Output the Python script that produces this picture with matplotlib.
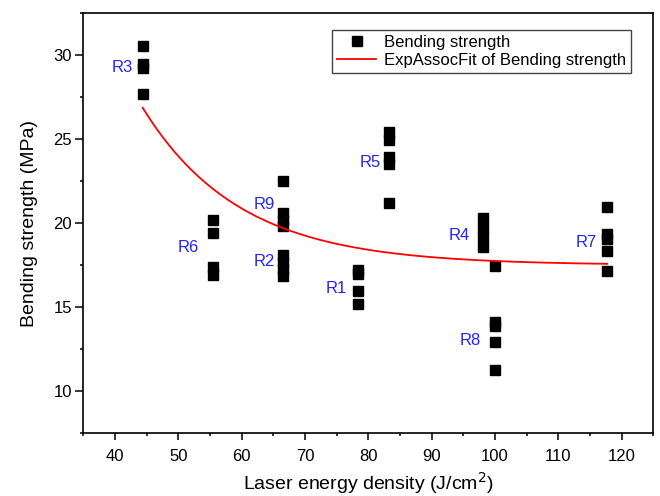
import numpy as np
import matplotlib
matplotlib.use('Agg')
import matplotlib.pyplot as plt
from matplotlib.ticker import MultipleLocator

plt.rcParams['font.family'] = ['Liberation Sans', 'DejaVu Sans']

# laser energy density (J/cm2) and bending strength (MPa) for each sample group
energia = [44.4] * 4 + [55.5] * 4 + [66.6] * 8 + [78.4] * 4 + [83.3] * 5 + [98.1] * 4 + [100.0] * 5 + [117.7] * 5
resistencia = [30.55, 29.45, 29.2, 27.7,
               20.17, 19.41, 17.4, 16.9,
               22.5, 20.58, 20.2, 19.84, 18.09, 17.7, 17.3, 16.87,
               17.22, 16.97, 15.98, 15.2,
               25.42, 24.93, 23.92, 23.49, 21.2,
               20.33, 19.7, 19.15, 18.6,
               17.43, 14.1, 13.9, 12.92, 11.29,
               20.94, 19.34, 19.04, 18.34, 17.17]

# sample labels and where they sit
rotulos = ['R3', 'R6', 'R9', 'R2', 'R1', 'R5', 'R4', 'R8', 'R7']
rotulo_x = [42.9, 53.2, 65.3, 65.3, 76.7, 82.0, 96.0, 97.8, 116.0]
rotulo_y = [29.23, 18.54, 21.11, 17.71, 16.13, 23.63, 19.29, 13.0, 18.83]

# exponential fit parameters
y0, A, x0, t = 17.5, 9.36, 44.4, 15.3
x_fit = np.linspace(44.4, 117.7, 200)
y_fit = y0 + A * np.exp(-(x_fit - x0) / t)

fig = plt.figure(figsize=(6.6, 4.96), dpi=100)
ax = fig.add_axes([0.126, 0.1264, 0.864, 0.8476])

ax.plot(energia, resistencia, 's', color='black', markersize=6.5, linestyle='none',
        label='Bending strength')
ax.plot(x_fit, y_fit, color='red', linewidth=1.3, label='ExpAssocFit of Bending strength')

for r, rx, ry in zip(rotulos, rotulo_x, rotulo_y):
    ax.text(rx, ry, r, color='#2323ff', fontsize=12, ha='right', va='center')

ax.set_xlim(35, 125)
ax.set_ylim(7.5, 32.5)
ax.xaxis.set_major_locator(MultipleLocator(10))
ax.xaxis.set_minor_locator(MultipleLocator(5))
ax.yaxis.set_major_locator(MultipleLocator(5))
ax.yaxis.set_minor_locator(MultipleLocator(2.5))
ax.tick_params(axis='x', which='major', direction='out', length=5, width=1.1, labelsize=12, pad=6)
ax.tick_params(axis='y', which='major', direction='out', length=6, width=1.1, labelsize=12, pad=2)
ax.tick_params(which='minor', direction='out', length=2.5, width=1.1)
for s in ax.spines.values():
    s.set_linewidth(1.2)

ax.set_xlabel('Laser energy density (J/cm$^2$)', fontsize=14, labelpad=4.5)
ax.set_ylabel('Bending strength (MPa)', fontsize=14, labelpad=11)

leg = ax.legend(loc='upper right', bbox_to_anchor=(0.961, 0.959), borderaxespad=0,
                fontsize=12, fancybox=False, edgecolor='#444444', framealpha=1,
                handlelength=2.3, handletextpad=0.5, borderpad=0.3, labelspacing=0.15)
leg.get_frame().set_linewidth(1.0)

plt.savefig('out.png', dpi=100)
